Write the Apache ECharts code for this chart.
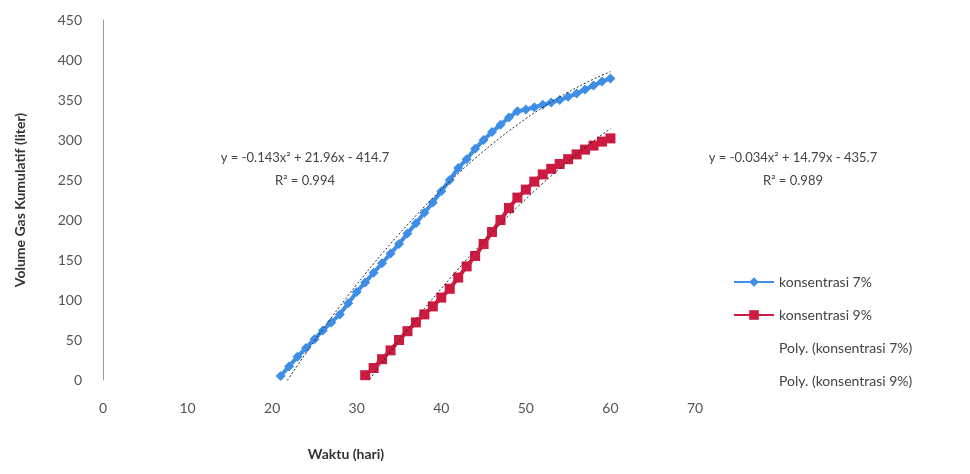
<!DOCTYPE html>
<html>
<head>
<meta charset="utf-8">
<script src="https://cdn.jsdelivr.net/npm/echarts@6/dist/echarts.min.js"></script>
<style>
html,body{margin:0;padding:0;background:#fff;}
#chart{width:970px;height:474px;}
</style>
</head>
<body>
<div id="chart"></div>
<script>
// ---- data ----
const days7 = [21,22,23,24,25,26,27,28,29,30,31,32,33,34,35,36,37,38,39,40,41,42,43,44,45,46,47,48,49,50,51,52,53,54,55,56,57,58,59,60];
const vol7  = [5,17,29,40,51,62,72,82,96,110,122,134,146,158,170,183,196,209,222,236,250,265,276,289,300,310,319,328,336,338,341,344,347,350,354,358,363,368,373,377];
const days9 = [31,32,33,34,35,36,37,38,39,40,41,42,43,44,45,46,47,48,49,50,51,52,53,54,55,56,57,58,59,60];
const vol9  = [6,15,26,37,50,61,72,82,92,103,114,128,142,155,170,185,200,215,228,238,248,257,264,270,276,282,288,293,298,302];
const seriesNames = ['konsentrasi 7%','konsentrasi 9%','Poly. (konsentrasi 7%)','Poly. (konsentrasi 9%)'];
const eqText7 = ['y = -0.143x² + 21.96x - 414.7','R² = 0.994'];
const eqText9 = ['y = -0.034x² + 14.79x - 435.7','R² = 0.989'];
const xTitle = 'Waktu (hari)';
const yTitle = 'Volume Gas Kumulatif (liter)';
const xTicks = [0,10,20,30,40,50,60,70];
const yTicks = [0,50,100,150,200,250,300,350,400,450];

// quadratic least-squares trendline from the data (like the spreadsheet's polynomial trendline)
function quadFit(xs, ys){
  let n=xs.length,s=[0,0,0,0,0],t=[0,0,0];
  for(let i=0;i<n;i++){const x=xs[i],y=ys[i];
    for(let k=0;k<5;k++) s[k]+=Math.pow(x,k);
    for(let k=0;k<3;k++) t[k]+=y*Math.pow(x,k);}
  const A=[[s[0],s[1],s[2],t[0]],[s[1],s[2],s[3],t[1]],[s[2],s[3],s[4],t[2]]];
  for(let i=0;i<3;i++){for(let j=i+1;j<3;j++){const f=A[j][i]/A[i][i];for(let k=i;k<4;k++)A[j][k]-=f*A[i][k];}}
  const c=[0,0,0];
  for(let i=2;i>=0;i--){let v=A[i][3];for(let k=i+1;k<3;k++)v-=A[i][k]*c[k];c[i]=v/A[i][i];}
  return xs.map(x=>[x,c[0]+c[1]*x+c[2]*x*x]);
}

const chart = echarts.init(document.getElementById('chart'));
const FONT = 'Lato, "Open Sans", sans-serif';
const c7 = '#3f8ee6', c9 = '#cc1a40';
chart.setOption({
  backgroundColor:'#ffffff',
  animation:false,
  textStyle:{fontFamily:FONT},
  grid:{left:103,right:275,top:20,bottom:94,containLabel:false},
  xAxis:{type:'value',min:xTicks[0],max:xTicks[xTicks.length-1],interval:10,
    axisLine:{show:false},axisTick:{show:false},splitLine:{show:false},
    axisLabel:{margin:21,fontSize:14,color:'#555',fontFamily:FONT}},
  yAxis:{type:'value',min:yTicks[0],max:yTicks[yTicks.length-1],interval:50,
    name:yTitle,nameLocation:'middle',nameGap:76,
    nameTextStyle:{fontFamily:FONT,fontWeight:'bold',fontSize:14,color:'#333'},
    axisLine:{show:true,lineStyle:{color:'#9a9a9a',width:1}},axisTick:{show:false},splitLine:{show:false},
    axisLabel:{margin:21,fontSize:14,color:'#555',fontFamily:FONT}},
  legend:{orient:'vertical',left:728,top:270,itemWidth:40,itemHeight:12,itemGap:19,
    textStyle:{fontSize:14,color:'#444',fontFamily:FONT},
    data:[{name:seriesNames[0]},{name:seriesNames[1]},
      {name:seriesNames[2],icon:'rect',itemStyle:{opacity:0}},
      {name:seriesNames[3],icon:'rect',itemStyle:{opacity:0}}]},
  series:[
    {name:seriesNames[0],type:'line',data:days7.map((d,i)=>[d,vol7[i]]),
      color:c7,lineStyle:{width:4,color:c7},symbol:'diamond',symbolSize:10,itemStyle:{color:c7},z:2},
    {name:seriesNames[1],type:'line',data:days9.map((d,i)=>[d,vol9[i]]),
      color:c9,lineStyle:{width:4,color:c9},symbol:'rect',symbolSize:10,itemStyle:{color:c9},z:2},
    {name:seriesNames[2],type:'line',data:quadFit(days7,vol7),showSymbol:false,symbol:'none',smooth:true,
      color:'#222',lineStyle:{width:1,type:[2,2],color:'#1c2a3a'},z:3},
    {name:seriesNames[3],type:'line',data:quadFit(days9,vol9),showSymbol:false,symbol:'none',smooth:true,
      color:'#222',lineStyle:{width:1,type:[2,2],color:'#3a1c1c'},z:3}
  ],
  graphic:[
    {type:'text',x:305,y:146,style:{text:eqText7[0]+'\n'+eqText7[1],textAlign:'center',fontSize:13,lineHeight:23,fill:'#444',fontFamily:FONT}},
    {type:'text',x:793,y:146,style:{text:eqText9[0]+'\n'+eqText9[1],textAlign:'center',fontSize:13,lineHeight:23,fill:'#444',fontFamily:FONT}},
    {type:'text',x:346,y:447,style:{text:xTitle,textAlign:'center',fontSize:14,fontWeight:'bold',fill:'#333',fontFamily:FONT}}
  ]
});
</script>
</body>
</html>
